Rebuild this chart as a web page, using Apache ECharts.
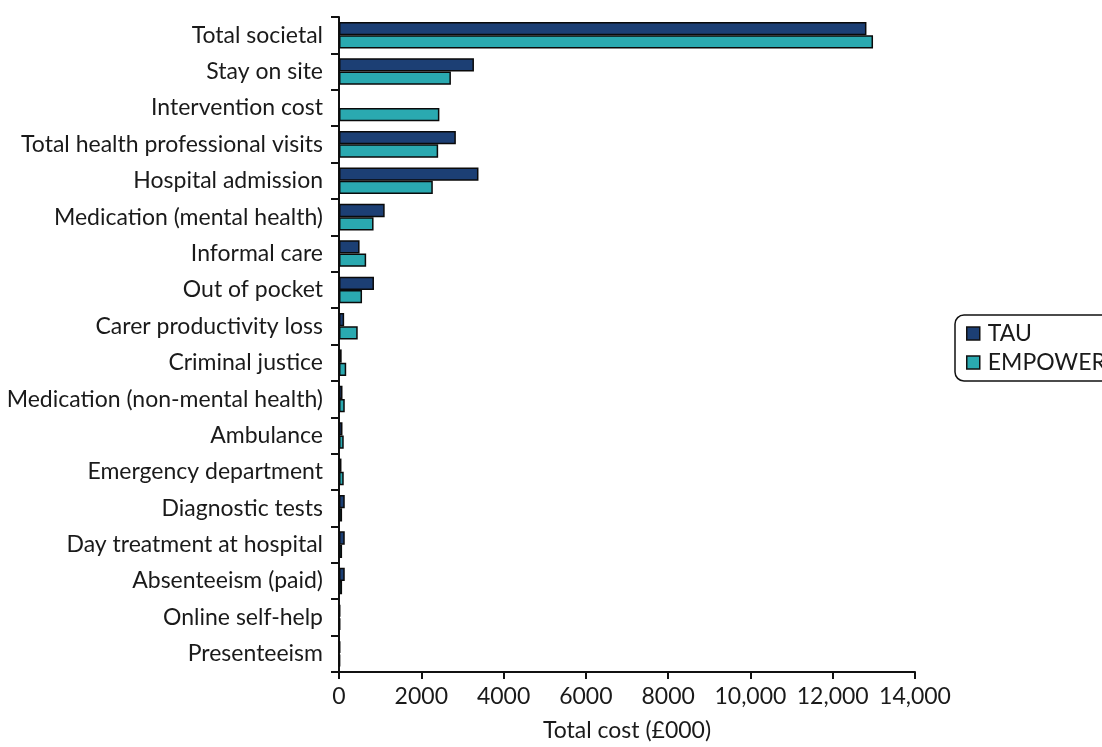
<!DOCTYPE html>
<html>
<head>
<meta charset="utf-8">
<script src="https://cdn.jsdelivr.net/npm/echarts@6/dist/echarts.min.js"></script>
<style>
html,body{margin:0;padding:0;background:#fff;}
#chart{width:1102px;height:747px;}
</style>
</head>
<body>
<div id="chart"></div>
<script>
const categories = [
  'Total societal','Stay on site','Intervention cost','Total health professional visits',
  'Hospital admission','Medication (mental health)','Informal care','Out of pocket',
  'Carer productivity loss','Criminal justice','Medication (non-mental health)','Ambulance',
  'Emergency department','Diagnostic tests','Day treatment at hospital','Absenteeism (paid)',
  'Online self-help','Presenteeism'
];
const tauValues = [12820, 3280, null, 2840, 3390, 1110, 500, 850, 125, 65, 85, 85, 60, 140, 140, 140, 35, 35];
const empowerValues = [12980, 2720, 2440, 2410, 2280, 840, 660, 560, 455, 175, 140, 115, 115, 75, 75, 75, 35, 30];
const xTicks = [0, 2000, 4000, 6000, 8000, 10000, 12000, 14000];
const seriesNames = ['TAU', 'EMPOWER'];

const FONT = 'Lato';
const FS = 23;
const chart = echarts.init(document.getElementById('chart'), null, {renderer: 'canvas'});
const fmt = v => v >= 10000 ? String(v).replace(/\B(?=(\d{3})+(?!\d))/g, ',') : String(v);

chart.setOption({
  animation: false,
  backgroundColor: '#ffffff',
  textStyle: {fontFamily: FONT},
  grid: {left: 339, right: 187, top: 17, bottom: 69, containLabel: false},
  legend: {
    orient: 'vertical',
    left: 955, top: 315,
    padding: [7, 12, 7, 11],
    itemGap: 6,
    itemWidth: 13, itemHeight: 13,
    borderColor: '#111', borderWidth: 1.5, borderRadius: 9,
    textStyle: {fontFamily: FONT, fontSize: FS, color: '#1a1a1a', padding: [0, 0, 0, 3]},
    data: seriesNames.map(n => ({name: n, icon: 'rect', itemStyle: {borderColor: '#111', borderWidth: 1.5}}))
  },
  xAxis: {
    type: 'value',
    min: xTicks[0], max: xTicks[xTicks.length - 1], interval: 2000,
    name: 'Total cost (£000)',
    nameLocation: 'middle', nameGap: 47,
    nameTextStyle: {fontFamily: FONT, fontSize: FS, color: '#1a1a1a'},
    axisLine: {show: true, lineStyle: {color: '#111', width: 2}},
    axisTick: {show: true, length: 7, lineStyle: {color: '#111', width: 2}},
    axisLabel: {fontFamily: FONT, fontSize: FS, color: '#1a1a1a', margin: 13, formatter: fmt},
    splitLine: {show: false}
  },
  yAxis: {
    type: 'category',
    data: categories,
    inverse: true,
    axisLine: {show: true, lineStyle: {color: '#111', width: 2}},
    axisTick: {show: true, length: 8, lineStyle: {color: '#111', width: 2}},
    axisLabel: {fontFamily: FONT, fontSize: FS, color: '#1a1a1a', margin: 16}
  },
  series: [
    {
      name: seriesNames[0], type: 'bar', data: tauValues,
      barGap: '0%', barCategoryGap: '27%',
      itemStyle: {color: '#1c3f74', borderColor: '#0a0a0a', borderWidth: 1.5}
    },
    {
      name: seriesNames[1], type: 'bar', data: empowerValues,
      barGap: '0%', barCategoryGap: '27%',
      itemStyle: {color: '#2aa9b0', borderColor: '#0a0a0a', borderWidth: 1.5}
    }
  ]
});
</script>
</body>
</html>
